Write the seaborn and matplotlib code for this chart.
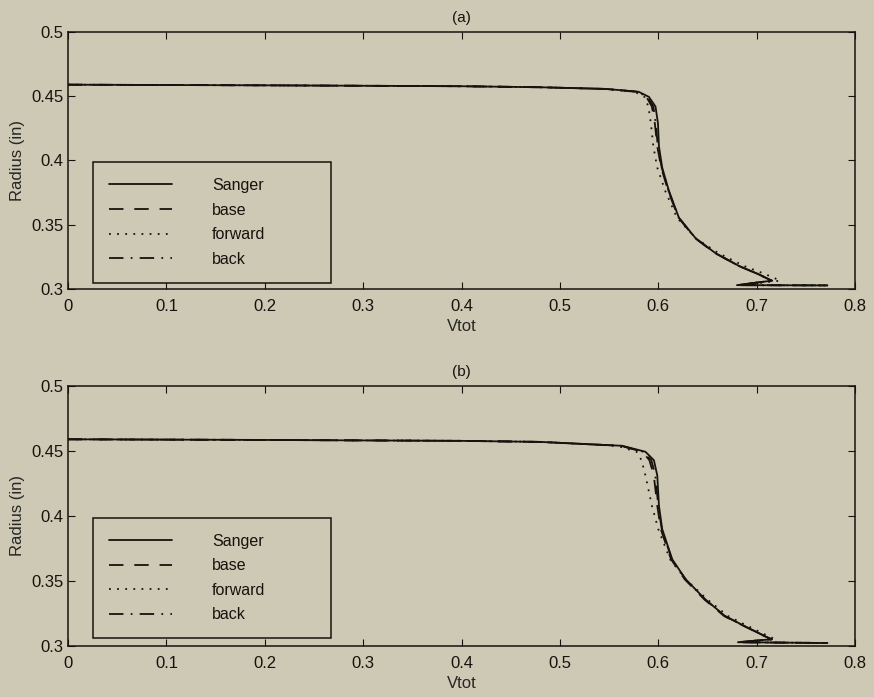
import numpy as np
import pandas as pd
import matplotlib
matplotlib.use("Agg")
import matplotlib.pyplot as plt
import seaborn as sns

# -------------------------------
# Data
# -------------------------------

series_names = ["Sanger", "base", "forward", "back"]

# panel (a): radius points along the curve (path order) and Vtot of each run
radius_a = [0.4590, 0.4585, 0.4578, 0.4570, 0.4557, 0.4535, 0.4495, 0.4420, 0.4290,
            0.4110, 0.3945, 0.3765, 0.3555, 0.3395, 0.3280, 0.3180, 0.3115, 0.3065,
            0.3030, 0.3028]
sanger_a = [0.000, 0.200, 0.400, 0.480, 0.547, 0.580, 0.5905, 0.5972, 0.5997, 0.6007,
            0.6040, 0.6108, 0.6210, 0.6380, 0.6580, 0.6820, 0.7020, 0.7157, 0.6800, 0.7720]
base_a = [0.000, 0.200, 0.400, 0.480, 0.546, 0.578, 0.5880, 0.5935, 0.5965, 0.5990,
          0.6030, 0.6100, 0.6205, 0.6375, 0.6575, 0.6815, 0.7015, 0.7150, 0.6800, 0.7720]
forward_a = [0.000, 0.200, 0.400, 0.480, 0.545, 0.576, 0.5860, 0.5900, 0.5925, 0.5950,
             0.5990, 0.6070, 0.6190, 0.6380, 0.6610, 0.6870, 0.7090, 0.7240, 0.6850, 0.7720]
back_a = [0.000, 0.200, 0.400, 0.480, 0.546, 0.579, 0.5890, 0.5950, 0.5975, 0.5995,
          0.6035, 0.6105, 0.6208, 0.6378, 0.6578, 0.6818, 0.7018, 0.7155, 0.6800, 0.7720]

# panel (b)
radius_b = [0.4590, 0.4585, 0.4578, 0.4570, 0.4540, 0.4494, 0.4429, 0.4312, 0.4080,
            0.3900, 0.3667, 0.3512, 0.3357, 0.3230, 0.3150, 0.3072, 0.3052, 0.3029, 0.3023]
sanger_b = [0.000, 0.200, 0.400, 0.480, 0.5635, 0.587, 0.5956, 0.5990, 0.6007, 0.6040,
            0.6142, 0.6280, 0.6480, 0.6680, 0.6886, 0.7095, 0.7156, 0.6810, 0.7720]
base_b = [0.000, 0.200, 0.400, 0.480, 0.5620, 0.584, 0.5910, 0.5955, 0.5990, 0.6025,
          0.6130, 0.6270, 0.6470, 0.6670, 0.6880, 0.7090, 0.7150, 0.6810, 0.7720]
forward_b = [0.000, 0.200, 0.400, 0.480, 0.5580, 0.578, 0.5830, 0.5870, 0.5935, 0.6000,
             0.6120, 0.6280, 0.6500, 0.6710, 0.6920, 0.7130, 0.7190, 0.6840, 0.7720]
back_b = [0.000, 0.200, 0.400, 0.480, 0.5620, 0.585, 0.5930, 0.5970, 0.6000, 0.6035,
          0.6138, 0.6278, 0.6478, 0.6678, 0.6884, 0.7093, 0.7154, 0.6810, 0.7720]

x_ticks = [0, 0.1, 0.2, 0.3, 0.4, 0.5, 0.6, 0.7, 0.8]
y_ticks = [0.3, 0.35, 0.4, 0.45, 0.5]

# -------------------------------
# Style
# -------------------------------
paper = "#cdc9b4"
ink = "#16130e"

sns.set_style("ticks")
plt.rcParams["font.family"] = ["Liberation Sans", "DejaVu Sans"]
plt.rcParams["axes.edgecolor"] = ink
plt.rcParams["text.color"] = ink
plt.rcParams["xtick.color"] = ink
plt.rcParams["ytick.color"] = ink

line_dashes = {"Sanger": "", "base": (8, 6), "forward": (1, 3.5), "back": (8, 4, 1, 4)}
line_colors = {name: ink for name in series_names}

fig = plt.figure(figsize=(8.74, 6.97), dpi=100, facecolor=paper)
ax_a = fig.add_axes([68 / 874, 1 - 289 / 697, 787 / 874, 257 / 697])
ax_b = fig.add_axes([68 / 874, 1 - 646 / 697, 787 / 874, 260 / 697])


def draw_panel(ax, radius, runs, title):
    frames = []
    for name, vtot in zip(series_names, runs):
        frames.append(pd.DataFrame({"Vtot": vtot, "Radius": radius, "series": name}))
    df = pd.concat(frames, ignore_index=True)

    sns.lineplot(data=df, x="Vtot", y="Radius", hue="series", style="series",
                 palette=line_colors, dashes=line_dashes, sort=False,
                 estimator=None, linewidth=1.3, ax=ax)

    ax.set_facecolor(paper)
    ax.set_xlim(0, 0.8)
    ax.set_ylim(0.3, 0.5)
    ax.set_xticks(x_ticks)
    ax.set_yticks(y_ticks)
    ax.set_xticklabels([f"{t:g}" for t in x_ticks])
    ax.set_yticklabels([f"{t:g}" for t in y_ticks])
    ax.tick_params(direction="in", top=True, right=True, length=5, width=0.8,
                   labelsize=12)
    ax.tick_params(axis="x", pad=7.5)
    ax.tick_params(axis="y", pad=3.5)
    for sp in ax.spines.values():
        sp.set_linewidth(1.1)
        sp.set_visible(True)
    ax.set_xlabel("Vtot", fontsize=12, labelpad=3)
    ax.set_ylabel("Radius (in)", fontsize=12, labelpad=4)
    ax.set_title(title, fontsize=11, pad=7)

    handles, labels = ax.get_legend_handles_labels()
    if ax.get_legend() is not None:
        ax.get_legend().remove()
    leg = ax.legend(handles, labels, loc="upper left",
                    bbox_to_anchor=(0.032, 0.0, 0.302, 0.494), mode="expand",
                    borderaxespad=0, fontsize=11.5, handlelength=3.95,
                    handletextpad=2.5, labelspacing=0.6, borderpad=1.0,
                    fancybox=False, framealpha=1, facecolor=paper,
                    edgecolor=ink)
    leg.get_frame().set_linewidth(1.1)


draw_panel(ax_a, radius_a, [sanger_a, base_a, forward_a, back_a], "(a)")
draw_panel(ax_b, radius_b, [sanger_b, base_b, forward_b, back_b], "(b)")

fig.savefig("out.png", dpi=100, facecolor=paper)
